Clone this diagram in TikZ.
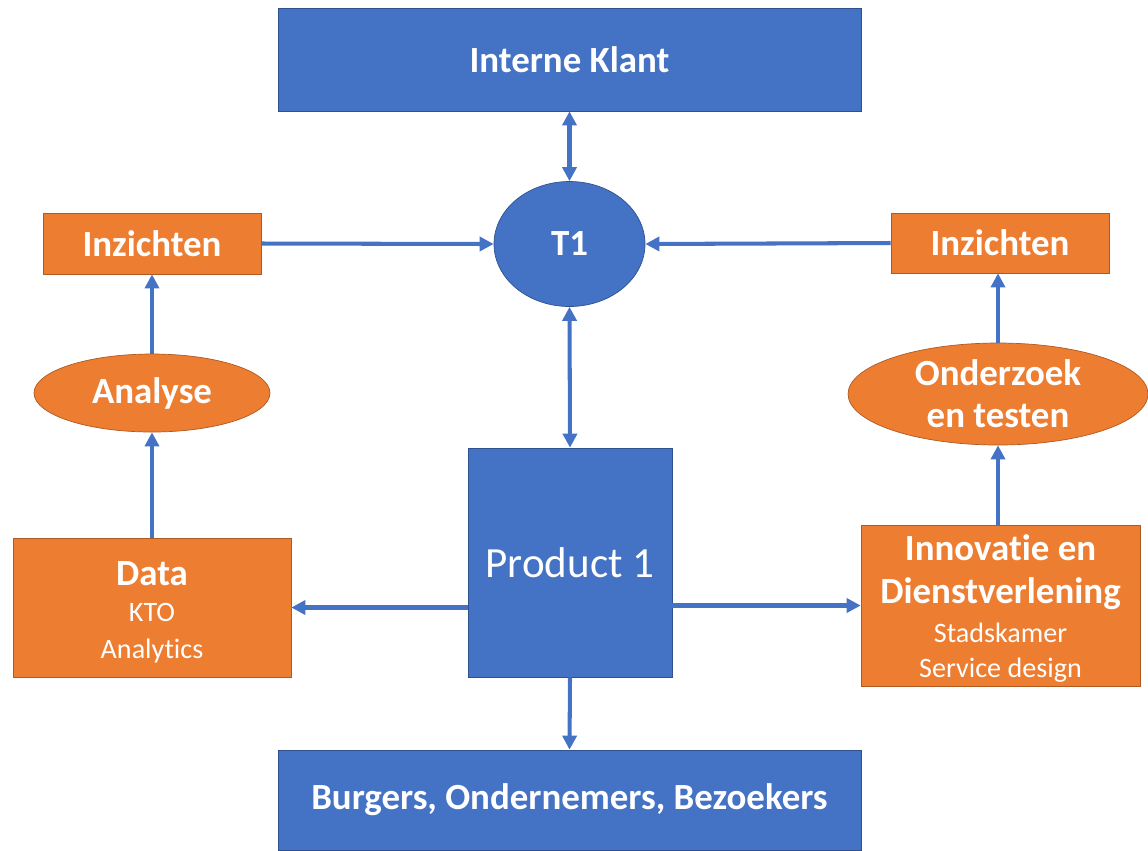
\documentclass[tikz,border=0pt]{standalone}
\usepackage{fontspec}
\setmainfont{Carlito}[Ligatures=NoCommon]
\usetikzlibrary{positioning,arrows.meta,shapes.geometric}
\definecolor{kblauw}{HTML}{4472C4}
\definecolor{kblauwrand}{HTML}{2F528F}
\definecolor{koranje}{HTML}{ED7D31}
\definecolor{koranjerand}{HTML}{AE5A21}
\newcommand{\kop}[1]{{\fontsize{21}{25}\selectfont\bfseries #1}}
\begin{document}
\begin{tikzpicture}
   [x=0.02cm,y=-0.02cm,
    blok/.style={rectangle,draw=kblauwrand,fill=kblauw,text=white,line width=0.4pt,
	 inner sep=2pt,align=center},
    oranje/.style={rectangle,draw=koranjerand,fill=koranje,text=white,line width=0.4pt,
	 inner sep=2pt,align=center},
    ovaal/.style={ellipse,draw=#1rand,fill=#1,text=white,line width=0.4pt,inner sep=0pt,align=center},
    titel/.style={font=\fontsize{21}{24}\selectfont\bfseries},
    pijl/.style={draw=kblauw,line width=2.3pt,-{Triangle[length=8pt,width=8pt]}},
    dubbel/.style={draw=kblauw,line width=2.3pt,{Triangle[length=8pt,width=8pt]}-{Triangle[length=8pt,width=8pt]}}]
\useasboundingbox (0,0) rectangle (1148,850);
% blauwe blokken
\node [blok,titel,minimum width=11.66cm,minimum height=2.06cm] (klant) at (569.5,59.5) {Interne Klant};
\node [ovaal=kblauw,titel,minimum width=3.02cm,minimum height=2.5cm] (t1) at (569.5,244) {T1};
\node [blok,font=\fontsize{24.5}{29}\selectfont,minimum width=4.08cm,minimum height=4.58cm] (prod) at (570,562.5) {Product 1};
\node [blok,titel,minimum width=11.66cm,minimum height=2cm] (burgers) at (569.5,800) {Burgers, Ondernemers, Bezoekers};
% links
\node [oranje,titel,minimum width=4.36cm,minimum height=1.22cm] (inzl) at (152,243.5) {Inzichten};
\node [ovaal=koranje,titel,minimum width=4.72cm,minimum height=1.56cm] (analyse) at (152,393) {Analyse};
\node [oranje,minimum width=5.56cm,minimum height=2.78cm,font=\fontsize{16}{20.6}\selectfont] (data) at (152,607.5) {%
	\rule{0pt}{19pt}\kop{Data}\\
	KTO\\
	Analytics};
% rechts
\node [oranje,titel,minimum width=4.36cm,minimum height=1.2cm] (inzr) at (1000,243) {Inzichten};
\node [ovaal=koranje,minimum width=6cm,minimum height=2.04cm,
	 font=\fontsize{21}{24}\selectfont\bfseries] (onderzoek) at (998,394) {Onderzoek\\en testen};
\node [oranje,minimum width=5.58cm,minimum height=3.22cm,font=\fontsize{16}{20}\selectfont] (innov) at (1000.5,605.5) {%
	\rule{0pt}{18pt}\kop{Innovatie en}\\[4.4pt]
	\kop{Dienstverlening}\\[2pt]
	Stadskamer\\
	Service design};
% verbindingen
\draw [dubbel] (klant.south) -- (t1.north);
\draw [dubbel] (t1.south) -- (prod.north);
\draw [pijl] (prod.south) -- (burgers.north);
\draw [pijl] (inzl.east) -- (t1.west);
\draw [pijl] (inzr.west) -- (t1.east);
\draw [pijl] (data.north) -- (analyse.south);
\draw [pijl] (analyse.north) -- (inzl.south);
\draw [pijl] (innov.north -| onderzoek.south) -- (onderzoek.south);
\draw [pijl] (onderzoek.north) -- (onderzoek.north |- inzr.south);
\draw [pijl] (prod.west |- data.east) -- (data.east);
\draw [pijl] (prod.east |- innov.east) -- (innov.west);
\end{tikzpicture}
\end{document}
